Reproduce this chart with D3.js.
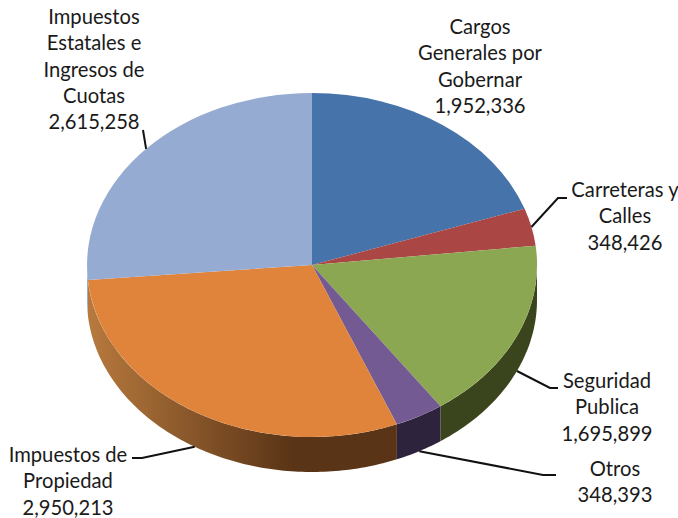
<!DOCTYPE html>
<html>
<head>
<meta charset="utf-8">
<script src="https://cdn.jsdelivr.net/npm/d3@7"></script>
<style>
  html, body { margin: 0; padding: 0; background: #fff; }
  text { font-family: Lato, "Open Sans", sans-serif; font-size: 20.2px; fill: #1a1a1a; text-anchor: middle; }
</style>
</head>
<body>
<div id="master"></div>
<script>
const categories = [
  ["Cargos", "Generales por", "Gobernar"],
  ["Carreteras y", "Calles"],
  ["Seguridad", "Publica"],
  ["Otros"],
  ["Impuestos de", "Propiedad"],
  ["Impuestos", "Estatales e", "Ingresos de", "Cuotas"]
]
const values = [1952336, 348426, 1695899, 348393, 2950213, 2615258]
const colors = ["#4674aa", "#aa4744", "#8ca752", "#745a92", "#e0833b", "#96abd2"]
const wallLight = ["#4674aa", "#aa4744", "#3a451e", "#2e233c", "#b87a3e", "#8fa3c8"]
const wallDark = ["#4674aa", "#aa4744", "#3a451e", "#2e233c", "#5a3416", "#8fa3c8"]

// label layout: text centre, first baseline, elbow and end of the leader
const labelX = [480, 625, 607, 615, 68, 94]
const labelY = [34, 197, 388, 476, 462, 24]
const leaderElbow = [null, [558, 198], [550, 388], [543, 475], [142, 458], [143, 130]]
const leaderEnd = [null, [567, 198], [558, 388], [556, 475], [132, 458], [143, 130]]

const w = 678, h = 518
const cx = 312, cy = 265, rx = 225, ry = 172, depth = 35
const lineH = 26.3

let svg = d3.select("#master").append("svg")
  .attr("width", w).attr("height", h)
  .style("display", "block")

let slices = d3.pie().sort(null)(values)

let px = a => cx + rx * Math.sin(a)
let py = a => cy - ry * Math.cos(a)

// side wall, only the front half of the ellipse shows
let defs = svg.append("defs")
slices.forEach((d, i) => {
  let g = defs.append("linearGradient").attr("id", "wall" + i)
    .attr("gradientUnits", "userSpaceOnUse")
    .attr("x1", cx - rx).attr("x2", cx - 20).attr("y1", 0).attr("y2", 0)
  g.append("stop").attr("offset", 0).attr("stop-color", wallLight[i])
  g.append("stop").attr("offset", 1).attr("stop-color", wallDark[i])
})

let wall = d3.area().x(a => px(a)).y0(a => py(a)).y1(a => py(a) + depth)

slices.forEach((d, i) => {
  let a0 = Math.max(d.startAngle, Math.PI / 2)
  let a1 = Math.min(d.endAngle, Math.PI * 1.5)
  if (a1 <= a0) return
  let n = Math.ceil((a1 - a0) * 60)
  let angles = d3.range(n + 1).map(k => a0 + (a1 - a0) * k / n)
  svg.append("path")
    .attr("d", wall(angles))
    .attr("fill", "url(#wall" + i + ")")
})

// top face
svg.append("g")
  .attr("transform", `translate(${cx},${cy}) scale(${rx},${ry})`)
  .selectAll("path")
  .data(slices)
  .enter()
  .append("path")
  .attr("d", d3.arc().innerRadius(0).outerRadius(1))
  .attr("fill", (d, i) => colors[i])

// leaders start on the visible edge at the middle of each slice
let line = d3.line()
slices.forEach((d, i) => {
  if (!leaderElbow[i]) return
  let mid = (d.startAngle + d.endAngle) / 2
  let onWall = mid > Math.PI / 2 && mid < Math.PI * 1.5
  let start = [px(mid), py(mid) + (onWall ? depth : 0)]
  svg.append("path")
    .attr("d", line([start, leaderElbow[i], leaderEnd[i]]))
    .attr("fill", "none")
    .attr("stroke", "#111")
    .attr("stroke-width", 2)
})

// labels
categories.forEach((lines, i) => {
  let t = svg.append("text").attr("x", labelX[i]).attr("y", labelY[i])
  lines.concat([d3.format(",")(values[i])]).forEach((s, k) => {
    t.append("tspan").attr("x", labelX[i]).attr("dy", k ? lineH : 0).text(s)
  })
})
</script>
</body>
</html>
